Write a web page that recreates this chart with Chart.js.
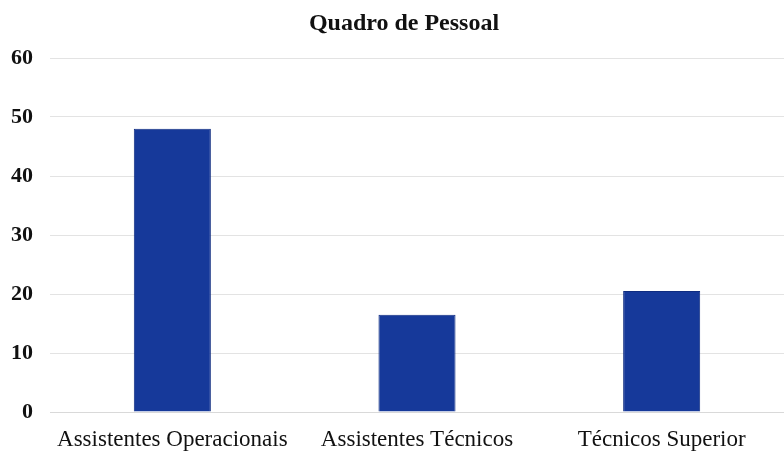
<!DOCTYPE html>
<html>
<head>
<meta charset="utf-8">
<script src="https://cdn.jsdelivr.net/npm/chart.js@4/dist/chart.umd.min.js"></script>
<style>
  html, body { margin: 0; padding: 0; background: #fff; }
  #wrap { width: 784px; height: 456px; }
</style>
</head>
<body>
<div id="wrap"><canvas id="staffChart" width="784" height="456"></canvas></div>
<script>

// =======================
// DATA
// =======================

const chartTitle = "Quadro de Pessoal";
const categories = ["Assistentes Operacionais", "Assistentes Técnicos", "Técnicos Superior"];
const staffCount = [48, 16.5, 20.5];
const yTicks = [0, 10, 20, 30, 40, 50, 60];

const SERIF = "'Liberation Serif', 'Times New Roman', serif";

// =======================
// TITLE (drawn a bit right of canvas centre, like the original)
// =======================

const titlePlugin = {
  id: "offsetTitle",
  afterDraw(chart) {
    const c = chart.ctx;
    c.save();
    c.font = "bold 24px " + SERIF;
    c.fillStyle = "#111";
    c.textAlign = "center";
    c.textBaseline = "middle";
    c.fillText(chartTitle, 404, 24);
    c.restore();
  }
};

// =======================
// CHART
// =======================

const ctx = document.getElementById("staffChart").getContext("2d");

const chart = new Chart(ctx, {
  type: "bar",
  data: {
    labels: categories,
    datasets: [{
      label: chartTitle,
      data: staffCount,
      backgroundColor: "#16399a",
      borderColor: "#0f2c80",
      borderWidth: 1,
      categoryPercentage: 1,
      barPercentage: 0.315
    }]
  },
  options: {
    responsive: false,
    animation: false,
    layout: {
      padding: { top: 58, left: 0, right: 0, bottom: 0 }
    },
    plugins: {
      legend: { display: false },
      tooltip: { enabled: false },
      title: { display: false }
    },
    scales: {
      x: {
        afterFit: axis => { axis.height = 44; },
        grid: { display: false, drawTicks: false },
        border: { color: "#d9d9d9" },
        ticks: {
          color: "#111",
          padding: 14,
          maxRotation: 0,
          autoSkip: false,
          font: { family: SERIF, size: 23 }
        }
      },
      y: {
        min: yTicks[0],
        max: yTicks[yTicks.length - 1],
        afterBuildTicks: axis => {
          axis.ticks = yTicks.map(v => ({ value: v }));
        },
        afterFit: axis => { axis.width = 50; },
        grid: { color: "#e3e3e3", drawTicks: false },
        border: { display: false },
        ticks: {
          color: "#111",
          padding: 17,
          font: { family: SERIF, size: 22, weight: "bold" }
        }
      }
    }
  },
  plugins: [titlePlugin]
});

</script>
</body>
</html>
